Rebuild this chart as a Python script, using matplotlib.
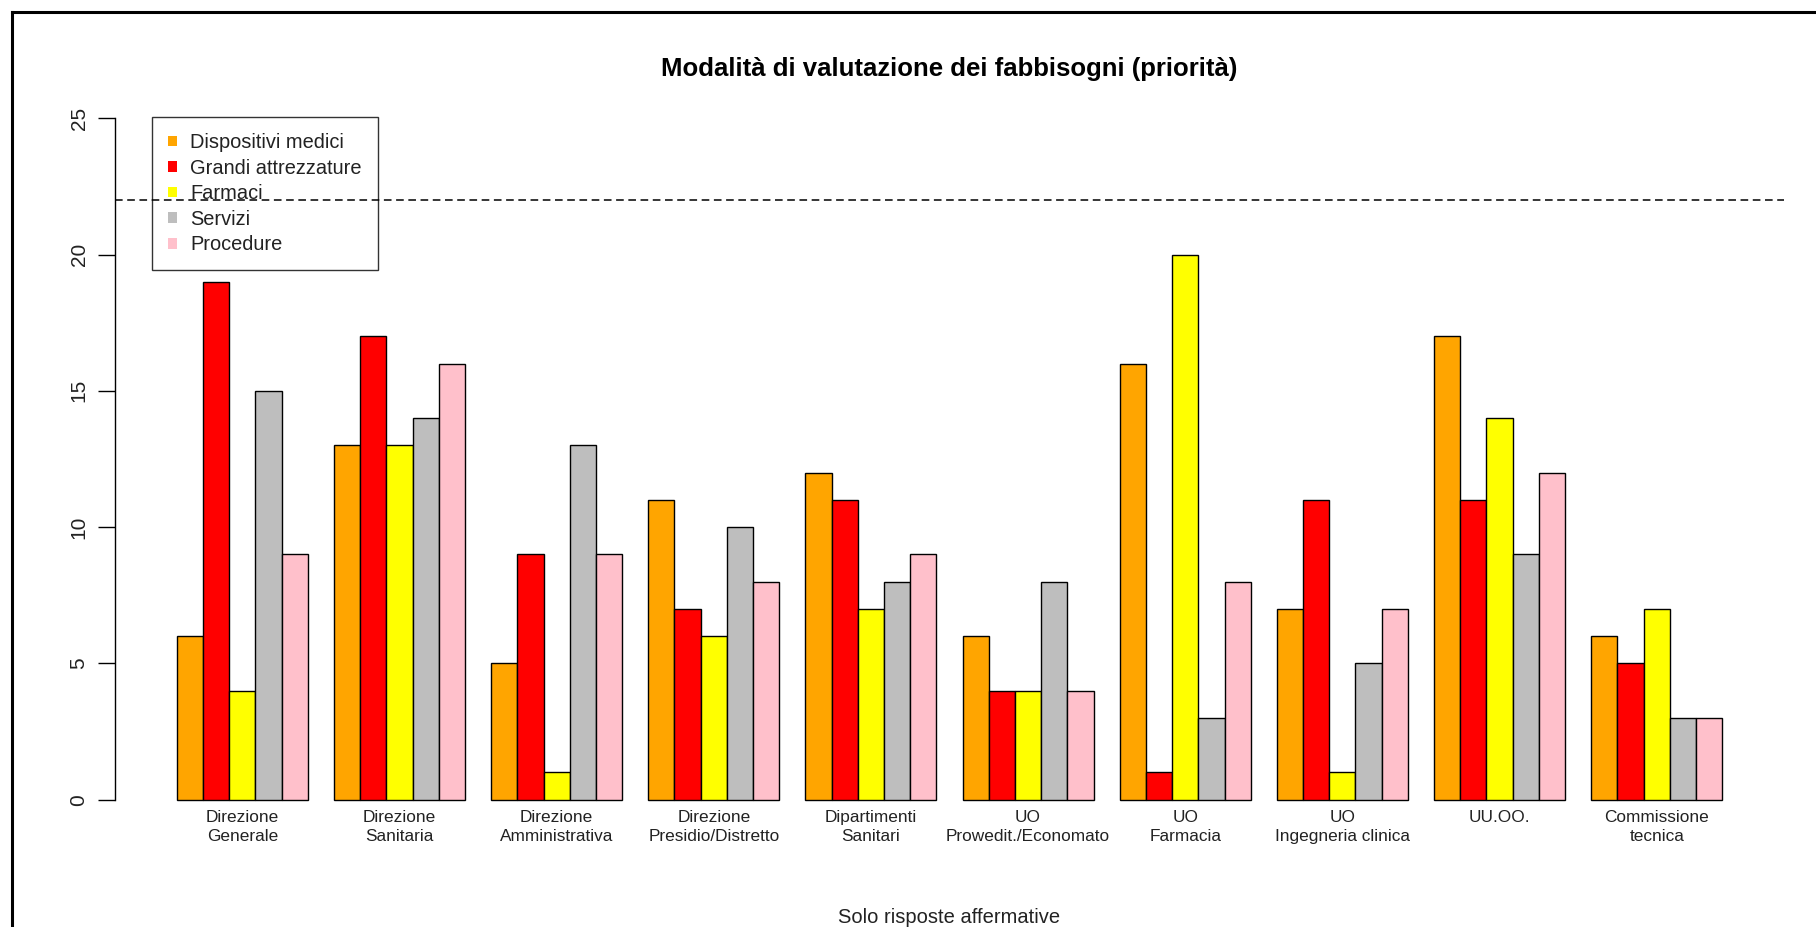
#!/usr/bin/env python3
# -*- coding: utf-8 -*-
"""
Grouped bar chart: modalita di valutazione dei fabbisogni (priorita).
Five series per respondent group, R-barplot look (beside=TRUE).
"""

import matplotlib
matplotlib.use('Agg')
import matplotlib.pyplot as plt
import numpy as np
from matplotlib.lines import Line2D
from matplotlib.patches import Patch

plt.rcParams['font.family'] = ['Liberation Sans', 'DejaVu Sans']


# ---------------------------------------------------------------------------
# Data
# ---------------------------------------------------------------------------

categories = [
    'Direzione\nGenerale',
    'Direzione\nSanitaria',
    'Direzione\nAmministrativa',
    'Direzione\nPresidio/Distretto',
    'Dipartimenti\nSanitari',
    'UO\nProwedit./Economato',
    'UO\nFarmacia',
    'UO\nIngegneria clinica',
    'UU.OO.',
    'Commissione\ntecnica',
]

series_names = ['Dispositivi medici', 'Grandi attrezzature', 'Farmaci',
                'Servizi', 'Procedure']

dispositivi_medici  = [6, 13, 5, 11, 12, 6, 16, 7, 17, 6]
grandi_attrezzature = [19, 17, 9, 7, 11, 4, 1, 11, 11, 5]
farmaci             = [4, 13, 1, 6, 7, 4, 20, 1, 14, 7]
servizi             = [15, 14, 13, 10, 8, 8, 3, 5, 9, 3]
procedure           = [9, 16, 9, 8, 9, 4, 8, 7, 12, 3]

threshold = 22
y_ticks = [0, 5, 10, 15, 20, 25]

COLORS = ['#FFA500', '#FF0000', '#FFFF00', '#BEBEBE', '#FFC0CB']


# ---------------------------------------------------------------------------
# Plot
# ---------------------------------------------------------------------------

W, H = 1816, 927
fig = plt.figure(figsize=(W / 100, H / 100), dpi=100)
ax = fig.add_axes([115 / W, 1 - 827 / H, (1784 - 115) / W, (827 - 91) / H])

values = [dispositivi_medici, grandi_attrezzature, farmaci, servizi, procedure]
n_groups = len(categories)
group_start = np.arange(n_groups) * 6 + 1      # R barplot: space = c(0, 1)

for s, (vals, color) in enumerate(zip(values, COLORS)):
    ax.bar(group_start + s, vals, width=1.0, align='edge',
           color=color, edgecolor='black', linewidth=1.0, zorder=2)

ax.axhline(threshold, color='black', linestyle=(0, (5, 3)), linewidth=1.1,
           zorder=3)

ax.set_xlim(-1.36, 62.36)
ax.set_ylim(-1, 26)

# axes: only the left axis, from 0 to 25
for side in ('top', 'right', 'bottom'):
    ax.spines[side].set_visible(False)
ax.spines['left'].set_bounds(0, 25)
ax.spines['left'].set_linewidth(1.0)

ax.set_yticks(y_ticks)
ax.set_yticklabels([str(t) for t in y_ticks], rotation=90, va='center',
                   fontsize=15, color='#222222')
ax.tick_params(axis='y', length=12, width=1.0, pad=7)

ax.set_xticks(group_start + 2.5)
ax.set_xticklabels(categories, fontsize=12.4, color='#222222',
                   linespacing=1.3)
ax.tick_params(axis='x', length=0, pad=-12)

ax.set_title('Modalità di valutazione dei fabbisogni (priorità)',
             fontsize=18.5, fontweight='bold', pad=11)
ax.set_xlabel('Solo risposte affermative', fontsize=14.5, color='#222222')
ax.xaxis.set_label_coords(0.5, -0.110)

handles = [Patch(facecolor=c, edgecolor='none') for c in COLORS]
leg = ax.legend(handles, series_names, loc='upper left',
                bbox_to_anchor=(152 / W, 1 - 117 / H),
                bbox_transform=fig.transFigure,
                fontsize=14.4, frameon=True, fancybox=False,
                handlelength=0.45, handleheight=0.45, handletextpad=0.65,
                labelspacing=0.33, borderpad=0.8, borderaxespad=0)
leg.get_frame().set_edgecolor('black')
leg.get_frame().set_linewidth(1.0)
leg.get_frame().set_facecolor('none')
for t in leg.get_texts():
    t.set_color('#222222')

# outer frame of the original picture (only top and left edges are visible)
fig.add_artist(Line2D([12 / W, 1], [1 - 12 / H, 1 - 12 / H],
                      transform=fig.transFigure, color='black', linewidth=2.2))
fig.add_artist(Line2D([12 / W, 12 / W], [0, 1 - 12 / H],
                      transform=fig.transFigure, color='black', linewidth=2.2))

plt.savefig('out.png', dpi=100)
plt.close()
